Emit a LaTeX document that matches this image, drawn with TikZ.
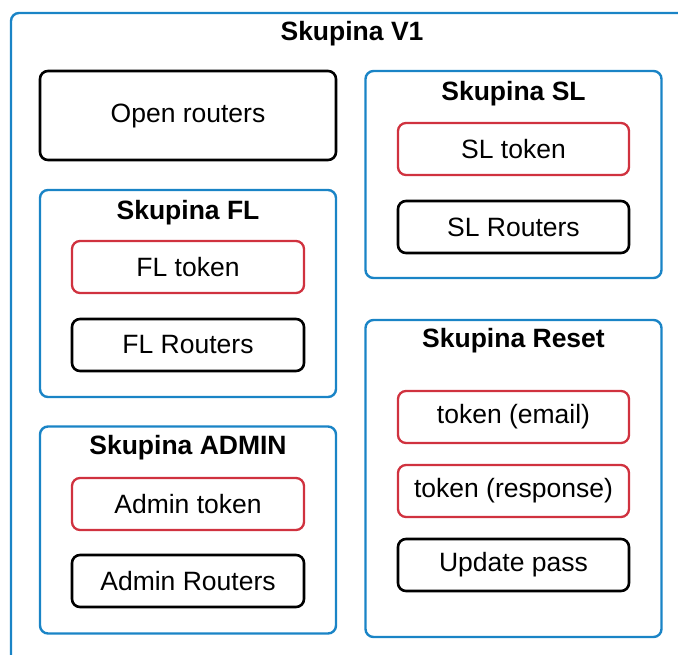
\documentclass[tikz,border=0pt]{standalone}
\usepackage{fontspec}
\setmainfont{Liberation Sans}
\definecolor{grpblue}{HTML}{1A84C6}
\definecolor{tokred}{HTML}{D0323F}
\begin{document}
\begin{tikzpicture}[x=1pt,y=-1pt,
  every node/.style={font=\fontsize{26.5}{31}\selectfont, inner sep=0pt, outer sep=0pt},
  group/.style={draw=grpblue, line width=2.4pt, rounded corners=8pt},
  grouptitle/.style={font=\fontsize{26.5}{31}\selectfont\bfseries},
  plainbox/.style={draw=black, line width=2.6pt, rounded corners=8pt},
  tokenbox/.style={draw=tokred, line width=2.3pt, rounded corners=8pt}]
  \clip (0,0) rectangle (678,654);

  % outer group, running past the page edges
  \node[group, minimum width=700pt, minimum height=680pt, anchor=north west] (v1) at (11,13) {};
  \node[grouptitle] (v1t) at (352,34) {Skupina V1};

  % left column
  \node[plainbox, minimum width=296pt, minimum height=89pt] (open) at (188,115.5) {Open routers};

  \node[group, minimum width=296pt, minimum height=207pt] (fl) at (188,293.5) {};
  \node[grouptitle] (flt) at (188,213) {Skupina FL};
  \node[tokenbox, minimum width=232pt, minimum height=52pt] (fltok) at (188,267) {FL token};
  \node[plainbox, minimum width=232pt, minimum height=52pt] (flr) at (188,345) {FL Routers};

  \node[group, minimum width=296pt, minimum height=207pt] (adm) at (188,530) {};
  \node[grouptitle] (admt) at (188,448) {Skupina ADMIN};
  \node[tokenbox, minimum width=232pt, minimum height=52pt] (admtok) at (188,504) {Admin token};
  \node[plainbox, minimum width=232pt, minimum height=52pt] (admr) at (188,581) {Admin Routers};

  % right column
  \node[group, minimum width=296pt, minimum height=207pt] (sl) at (513.5,174.5) {};
  \node[grouptitle] (slt) at (513.5,94) {Skupina SL};
  \node[tokenbox, minimum width=231pt, minimum height=52pt] (sltok) at (513.5,149) {SL token};
  \node[plainbox, minimum width=231pt, minimum height=52pt] (slr) at (513.5,227) {SL Routers};

  \node[group, minimum width=296pt, minimum height=317pt] (rst) at (513.5,478.5) {};
  \node[grouptitle] (rstt) at (513.5,341) {Skupina Reset};
  \node[tokenbox, minimum width=231pt, minimum height=52pt] (mail) at (513.5,417) {token (email)};
  \node[tokenbox, minimum width=231pt, minimum height=52pt] (resp) at (513.5,491) {token (response)};
  \node[plainbox, minimum width=231pt, minimum height=52pt] (upd) at (513.5,565) {Update pass};
\end{tikzpicture}
\end{document}
